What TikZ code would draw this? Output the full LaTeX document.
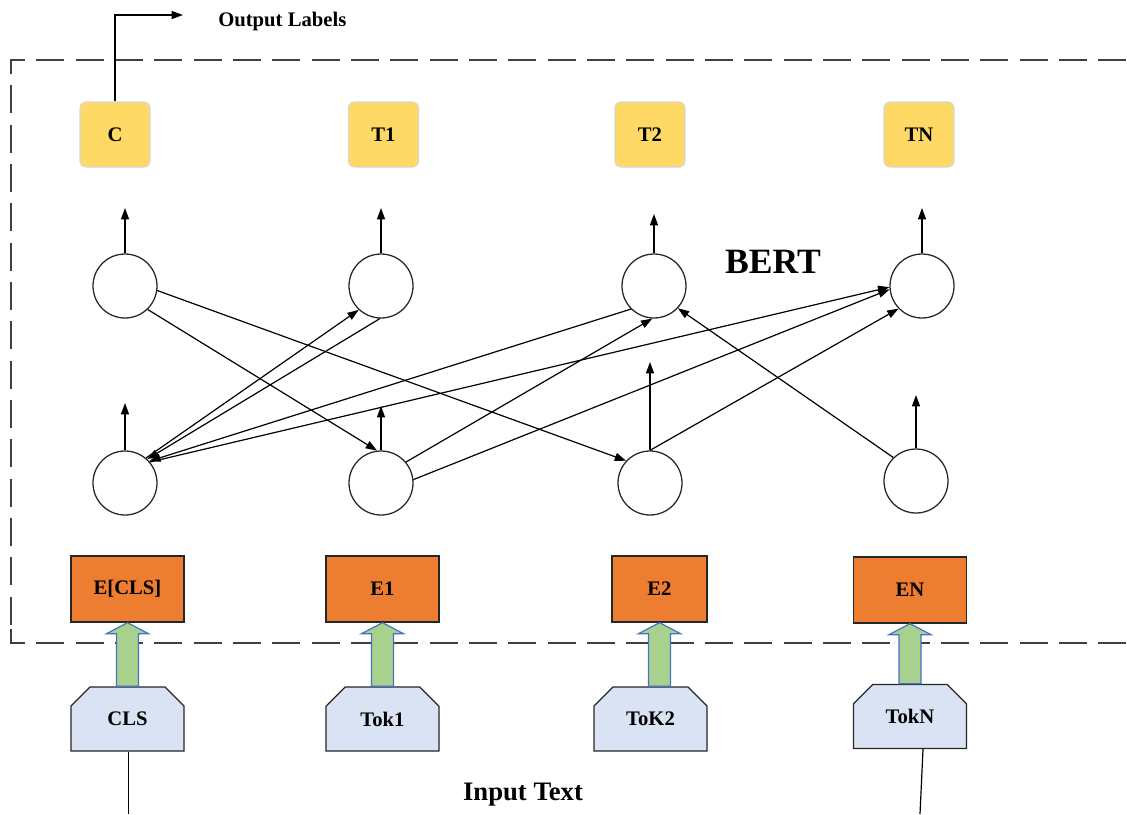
\documentclass[tikz,border=0pt]{standalone}
\usepackage{fontspec}
\setmainfont{Liberation Serif}
\usetikzlibrary{arrows.meta,shapes.misc,calc}

\definecolor{outyellow}{HTML}{FFD966}
\definecolor{outedge}{HTML}{D6D6D6}
\definecolor{emborange}{HTML}{ED7D31}
\definecolor{tokblue}{HTML}{DAE3F3}
\definecolor{arrgreen}{HTML}{A9D18E}
\definecolor{arredge}{HTML}{4472C4}
\definecolor{framegray}{HTML}{404040}

\begin{document}
\begin{tikzpicture}[x=0.75pt,y=-0.75pt,
  lbl/.style={font=\bfseries\fontsize{15.5}{18}\selectfont},
  neuron/.style={circle,draw=black!85,line width=0.95pt,minimum size=48pt,inner sep=0pt},
  outbox/.style={lbl,rectangle,rounded corners=4.5pt,fill=outyellow,draw=outedge,line width=0.8pt,
    minimum width=52.5pt,minimum height=48.75pt,inner sep=0pt},
  embbox/.style={lbl,rectangle,fill=emborange,draw=black!85,line width=1pt,
    minimum width=84.75pt,minimum height=49.5pt,inner sep=0pt},
  tokbox/.style={lbl,chamfered rectangle,chamfered rectangle corners={north west,north east},
    chamfered rectangle xsep=9pt,chamfered rectangle ysep=9pt,
    fill=tokblue,draw=black!85,line width=1pt,minimum width=84.75pt,minimum height=48pt,inner sep=0pt},
  link/.style={line width=0.9pt,-{Triangle[length=8.5pt,width=6pt]}},
  plain/.style={line width=0.9pt},
  frame/.style={draw=framegray,line width=1.1pt,dash pattern=on 21pt off 8.5pt},
  blockarrow/.style={fill=arrgreen,draw=arredge,line width=0.9pt,line join=miter},
]
\useasboundingbox (0,0) rectangle (1127,814);

% dashed model frame, open on the right
\draw[frame] (11,74) -- (11,60) -- (1145,60);
\draw[frame] (11,629) -- (11,643) -- (1145,643);
\draw[frame,dash phase=21pt] (11,74) -- (11,629);

% output boxes
\node[outbox] (oc)  at (115,134.5) {C};
\node[outbox] (ot1) at (383.5,134.5) {T1};
\node[outbox] (ot2) at (650,134.5) {T2};
\node[outbox] (otn) at (919,134.5) {TN};

% neurons, upper layer
\node[neuron] (c1) at (125,286) {};
\node[neuron] (c2) at (381,286) {};
\node[neuron] (c3) at (654,286) {};
\node[neuron] (c4) at (922,286) {};
% neurons, lower layer
\node[neuron] (b1) at (125,483) {};
\node[neuron] (b2) at (381,483) {};
\node[neuron] (b3) at (650,483) {};
\node[neuron] (b4) at (916,481) {};

% embeddings
\node[embbox] (e0) at (127.5,589) {E[CLS]};
\node[embbox] (e1) at (382.5,589) {E1};
\node[embbox,minimum width=71.25pt] (e2) at (659.5,589) {E2};
\node[embbox] (en) at (910,590) {EN};

% input tokens
\node[tokbox] (t0) at (127.5,719) {CLS};
\node[tokbox] (t1) at (382.5,719) {Tok1};
\node[tokbox] (t2) at (650.5,719) {ToK2};
\node[tokbox] (tn) at (910,716.5) {TokN};

% free ends of the vertical arrows
\coordinate (uc1) at (125,208);
\coordinate (uc2) at (381,208);
\coordinate (uc3) at (654,214);
\coordinate (uc4) at (922,208);
\coordinate (ub1) at (125,403);
\coordinate (ub2) at (381,406);
\coordinate (ub3) at (650,362);
\coordinate (ub4) at (916,395);
\coordinate (outbend) at (115,15);
\coordinate (outtip) at (183,15);
\coordinate (in0) at (128.5,814);
\coordinate (inn) at (920,814);

% vertical arrows above the neurons
\foreach \n in {c1,c2,c3,c4,b1,b2,b3,b4}
  \draw[link] (\n.north) -- (u\n);

% attention links between the layers
\draw[link] (c1.-46) -- (b2.97);
\draw[link] (c1.-8) -- (b3.137);
\draw[link] (b1.50) -- (c2.-133);
\draw[link] (c2.-92) -- (b1.47);
\draw[link] (c3.225) -- (b1.42);
\draw[link] (b1.40) -- (c4.182);
\draw[link] (b2.40) -- (c3.-93);
\draw[link] (b2.6) -- (c4.186);
\draw[link] (b3.north) -- (c4.-136);
\draw[link] (b4.134) -- (c3.-43);

% classification output
\draw[link] (oc.north) -- (outbend) -- (outtip);
\node[lbl,anchor=west,inner sep=0pt] (outlbl) at (218,22) {Output Labels};

% block arrows from tokens to embeddings
\foreach \t/\e in {t0/e0,t1/e1,t2/e2,tn/en}
  \path let \p1=(\e.south), \p2=(\t.north) in
    \pgfextra{}
    [blockarrow] (\x1-8.25pt,\y2) -- (\x1-8.25pt,\y1-8.25pt) -- (\x1-15.75pt,\y1-8.25pt)
    -- (\x1,\y1) -- (\x1+15.75pt,\y1-8.25pt) -- (\x1+8.25pt,\y1-8.25pt) -- (\x1+8.25pt,\y2) -- cycle;

% input lines
\draw[plain] (t0.south -| in0) -- (in0);
\draw[plain] ($(tn.south)+(13,0)$) -- (inn);

% titles
\node[font=\bfseries\fontsize{26.7}{30}\selectfont,inner sep=0pt] (bert) at (773,262) {BERT};
\node[font=\bfseries\fontsize{20}{24}\selectfont,inner sep=0pt] (intext) at (523,795) {Input Text};
\end{tikzpicture}
\end{document}
